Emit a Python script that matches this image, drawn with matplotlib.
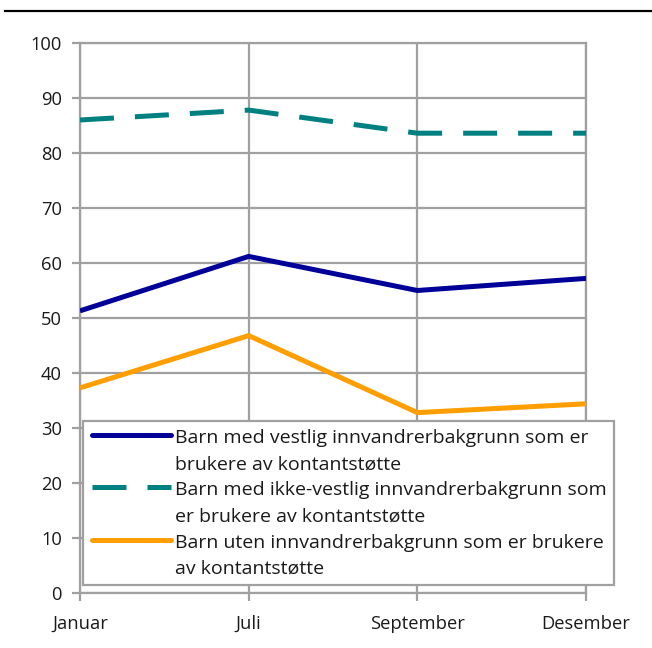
import matplotlib
matplotlib.use("Agg")
import matplotlib.pyplot as plt
from matplotlib.patches import Rectangle
from matplotlib.lines import Line2D

plt.rcParams['font.family'] = ['Open Sans', 'DejaVu Sans']

months = ["Januar", "Juli", "September", "Desember"]
vestlig = [51.3, 61.2, 55.0, 57.2]
ikke_vestlig = [86.0, 87.8, 83.6, 83.6]
uten = [37.3, 46.8, 32.8, 34.4]
yticks = [0, 10, 20, 30, 40, 50, 60, 70, 80, 90, 100]
labels = [
    ["Barn med vestlig innvandrerbakgrunn som er", "brukere av kontantstøtte"],
    ["Barn med ikke-vestlig innvandrerbakgrunn som", "er brukere av kontantstøtte"],
    ["Barn uten innvandrerbakgrunn som er brukere", "av kontantstøtte"],
]

W, H = 652, 648
fig = plt.figure(figsize=(W / 100, H / 100), dpi=100)

def fx(px):
    return px / W

def fy(py):
    return 1 - py / H

grid_c = "#a0a0a0"
text_c = "#1a1a1a"
fs = 13.2
lfs = 14

ax = fig.add_axes([fx(80), fy(593), fx(586) - fx(80), fy(43) - fy(593)])
x = list(range(len(months)))
colors = ["#000099", "#008080", "#ff9e00"]
ax.plot(x, vestlig, color=colors[0], lw=3.6, solid_capstyle="butt", zorder=3)
ax.plot(x, ikke_vestlig, color=colors[1], lw=3.6, dashes=(6.8, 4.2),
        dash_capstyle="butt", zorder=3)
ax.plot(x, uten, color=colors[2], lw=3.6, solid_capstyle="butt", zorder=3)

ax.set_xlim(0, len(months) - 1)
ax.set_ylim(0, 100)
ax.set_xticks(x)
ax.set_xticklabels(months)
ax.set_yticks(yticks)
ax.grid(True, color=grid_c, lw=1.6)
ax.set_axisbelow(True)
for s in ax.spines.values():
    s.set_color(grid_c)
    s.set_linewidth(1.6)
ax.tick_params(axis="y", direction="out", length=6, width=1.6, color=grid_c,
               labelsize=fs, labelcolor=text_c, pad=7)
ax.tick_params(axis="x", direction="out", length=6, width=1.6, color=grid_c,
               labelsize=fs, labelcolor=text_c, pad=10)

# legend drawn manually
fig.add_artist(Rectangle((fx(83), fy(585)), fx(614) - fx(83), fy(421) - fy(585),
                         transform=fig.transFigure, facecolor="white",
                         edgecolor=grid_c, lw=1.6, zorder=5))
styles = [dict(), dict(dashes=(6.8, 4.2)), dict()]
for i, (lab, c, st) in enumerate(zip(labels, colors, styles)):
    hy = 435 + 52.3 * i
    fig.add_artist(Line2D([fx(92), fx(171)], [fy(hy), fy(hy)], transform=fig.transFigure,
                          color=c, lw=3.6, solid_capstyle="round", dash_capstyle="butt",
                          zorder=6, **st))
    for j, line in enumerate(lab):
        by = 443 + 52.3 * i + 26.2 * j
        fig.text(fx(175), fy(by), line, fontsize=lfs, color=text_c, va="baseline",
                 ha="left", zorder=7)

# cut-off header rule
fig.add_artist(Line2D([fx(5), fx(652)], [fy(11), fy(11)], transform=fig.transFigure,
                      color="black", lw=1.6))

fig.savefig("out.png", dpi=100)
